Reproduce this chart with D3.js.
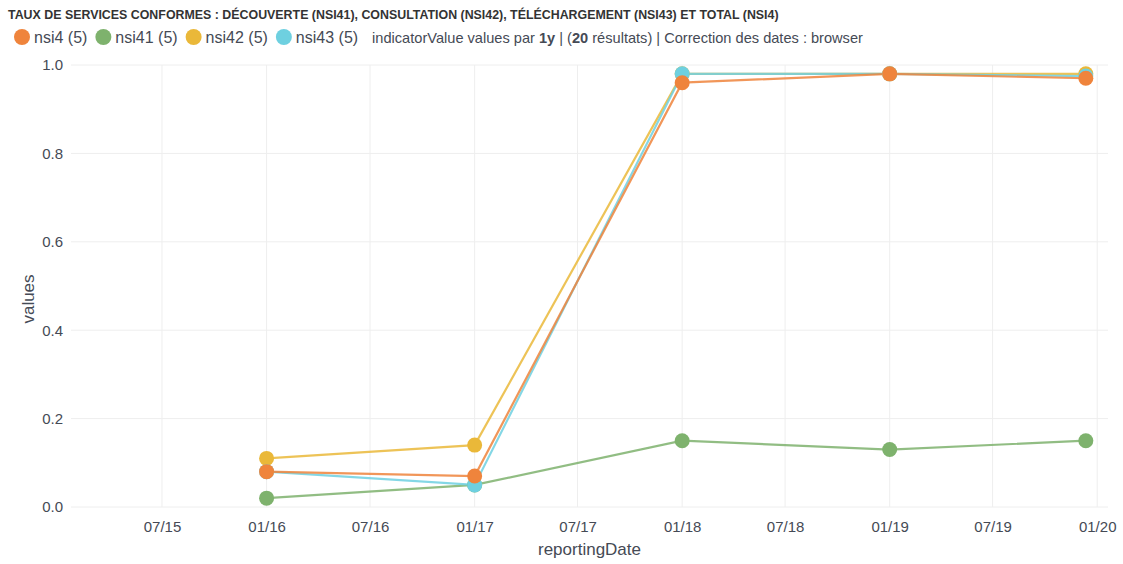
<meta charset="utf-8">
<title>Taux de services conformes</title>
<script src="https://d3js.org/d3.v7.min.js"></script>
<style>
  body { margin: 0; background: #fff; }
  text { font-family: "Liberation Sans", Arial, sans-serif; }
</style>
<body>
<svg width="1123" height="564"></svg>
<script>

  // data
  const
    dates = ['2016-01-01', '2017-01-01', '2018-01-01', '2019-01-01', '2019-12-12'],
    seriesNames = ['nsi4', 'nsi41', 'nsi42', 'nsi43'],
    colors = ['#ef843c', '#7eb26d', '#eab839', '#6ed0e0'],
    nsi4 = [0.08, 0.07, 0.96, 0.98, 0.97],
    nsi41 = [0.02, 0.05, 0.15, 0.13, 0.15],
    nsi42 = [0.11, 0.14, 0.98, 0.98, 0.98],
    nsi43 = [0.08, 0.05, 0.98, 0.98, 0.975],
    yTicks = [0, 0.2, 0.4, 0.6, 0.8, 1.0],
    // draw order: orange last so it sits on top
    drawOrder = [1, 2, 3, 0]

  const values = [nsi4, nsi41, nsi42, nsi43]
  const parse = d3.utcParse('%Y-%m-%d')

  const svg = d3.select('svg')
  const m = { left: 71, right: 15, top: 65, bottom: 57 }
  const W = 1123, H = 564

  const x = d3.scaleUtc()
    .domain([parse('2015-01-22'), parse('2020-01-20')])
    .range([m.left, W - m.right])

  const y = d3.scaleLinear()
    .domain([0, 1])
    .range([H - m.bottom, m.top])

  // grid
  const xTicks = x.ticks(d3.utcMonth.every(6))
  svg.append('g')
    .selectAll('line')
    .data(xTicks)
    .join('line')
    .attr('x1', d => x(d)).attr('x2', d => x(d))
    .attr('y1', y(0)).attr('y2', y(1))
    .attr('stroke', '#eee')

  svg.append('g')
    .selectAll('line')
    .data(yTicks)
    .join('line')
    .attr('x1', m.left).attr('x2', W - m.right)
    .attr('y1', d => y(d)).attr('y2', d => y(d))
    .attr('stroke', '#eee')

  // axes
  const xAxis = svg.append('g')
    .attr('transform', `translate(0,${y(0)})`)
    .call(d3.axisBottom(x).tickValues(xTicks).tickFormat(d3.utcFormat('%m/%y')).tickSize(0).tickPadding(14))
  xAxis.select('.domain').remove()
  xAxis.selectAll('text').attr('font-size', 15).attr('fill', '#454a55')

  const yAxis = svg.append('g')
    .attr('transform', `translate(${m.left},0)`)
    .call(d3.axisLeft(y).tickValues(yTicks).tickFormat(d3.format('.1f')).tickSize(0).tickPadding(8))
  yAxis.select('.domain').remove()
  yAxis.selectAll('text').attr('font-size', 15).attr('fill', '#454a55')

  svg.append('text')
    .attr('x', (m.left + W - m.right) / 2).attr('y', 555)
    .attr('text-anchor', 'middle')
    .attr('font-size', 17).attr('fill', '#454a55')
    .text('reportingDate')

  svg.append('text')
    .attr('transform', 'translate(34,299) rotate(-90)')
    .attr('text-anchor', 'middle')
    .attr('font-size', 17).attr('fill', '#454a55')
    .text('values')

  // series
  const line = d3.line()
    .x((d, i) => x(parse(dates[i])))
    .y(d => y(d))

  drawOrder.forEach(k => {
    svg.append('path')
      .attr('d', line(values[k]))
      .attr('fill', 'none')
      .attr('stroke', colors[k])
      .attr('stroke-width', 2.2)
      .attr('stroke-opacity', 0.85)
  })

  drawOrder.forEach(k => {
    svg.append('g')
      .selectAll('circle')
      .data(values[k])
      .join('circle')
      .attr('cx', (d, i) => x(parse(dates[i])))
      .attr('cy', d => y(d))
      .attr('r', 7.5)
      .attr('fill', colors[k])
  })

  // title
  svg.append('text')
    .attr('x', 8).attr('y', 19)
    .attr('font-size', 12.4).attr('font-weight', 'bold').attr('fill', '#333')
    .text('TAUX DE SERVICES CONFORMES : DÉCOUVERTE (NSI41), CONSULTATION (NSI42), TÉLÉCHARGEMENT (NSI43) ET TOTAL (NSI4)')

  // legend
  let lx = 14
  const ly = 37
  seriesNames.forEach((name, k) => {
    svg.append('circle')
      .attr('cx', lx + 8).attr('cy', ly).attr('r', 8)
      .attr('fill', colors[k])
    const t = svg.append('text')
      .attr('x', lx + 20).attr('y', ly + 5.5)
      .attr('font-size', 16).attr('fill', '#454a55')
      .text(`${name} (5)`)
    lx += 20 + t.node().getComputedTextLength() + 8
  })

  const info = svg.append('text')
    .attr('x', lx + 6).attr('y', ly + 5.5)
    .attr('font-size', 14.6).attr('fill', '#454a55')
  info.append('tspan').text('indicatorValue values par ')
  info.append('tspan').attr('font-weight', 'bold').text('1y')
  info.append('tspan').text(' | (')
  info.append('tspan').attr('font-weight', 'bold').text('20')
  info.append('tspan').text(' résultats) | Correction des dates : browser')

</script>
</body>
